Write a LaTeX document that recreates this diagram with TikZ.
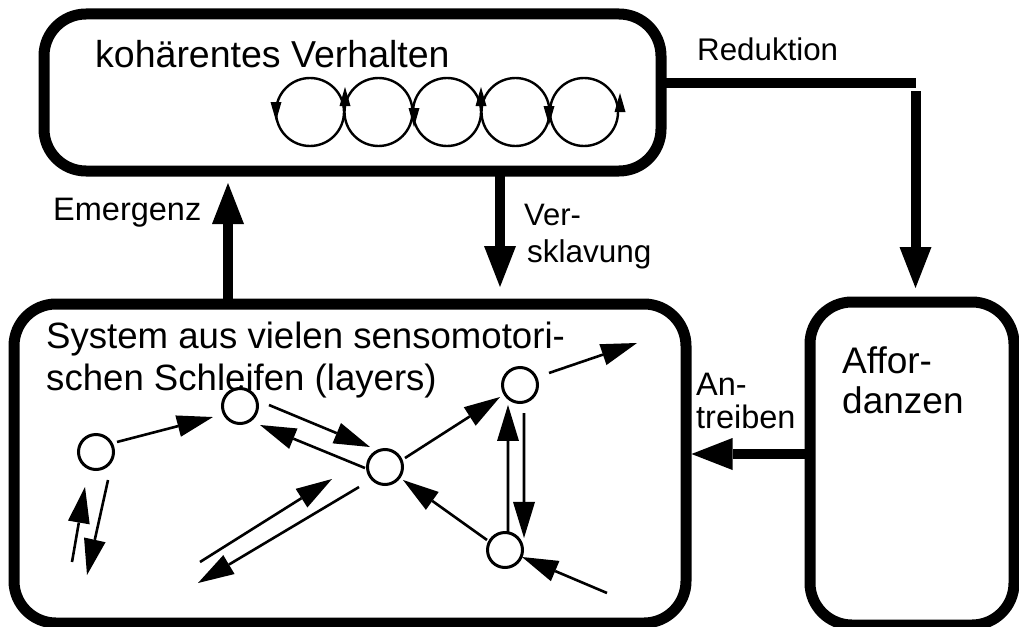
\documentclass[tikz,border=0pt]{standalone}
\usepackage{fontspec}
\setmainfont{Liberation Sans}
\usetikzlibrary{arrows.meta}
\begin{document}
\begin{tikzpicture}[x=1pt,y=-1pt,
  box/.style={draw, line width=11pt, rounded corners=42pt, inner sep=0pt, outer sep=0pt},
  bigline/.style={line width=10pt},
  bigarr/.style={line width=10pt, -{Triangle[length=41pt,width=32pt,line width=0pt]}},
  sarr/.style={line width=2.6pt, -{Triangle[length=36pt,width=22pt,line width=0pt]}},
  carr/.style={line width=2pt, -{Triangle[length=19pt,width=11pt,line width=0pt]}},
  loopc/.style={circle, draw, line width=2.4pt, minimum size=68pt, inner sep=0pt},
  unit/.style={circle, draw, line width=3pt, minimum size=35pt, inner sep=0pt},
  lbl/.style={anchor=base west, inner sep=0pt},
]
\useasboundingbox (0,0) rectangle (1019,626);

% boxes
\node[box, minimum width=617pt, minimum height=157pt] (beh) at (352.5,92.5) {};
\node[box, minimum width=672pt, minimum height=319pt] (sys) at (350,463.5) {};
\node[box, minimum width=204pt, minimum height=323pt] (aff) at (912,463.5) {};

% texts
\node[lbl, font=\fontsize{37.5}{40}\selectfont] (tbeh) at (95,67) {kohärentes Verhalten};
\node[lbl, font=\fontsize{36.6}{40}\selectfont] (tsys1) at (46,348) {System aus vielen sensomotori-};
\node[lbl, font=\fontsize{36.6}{40}\selectfont] (tsys2) at (46,390) {schen Schleifen (layers)};
\node[lbl, font=\fontsize{37}{40}\selectfont] (taff1) at (842,373) {Affor-};
\node[lbl, font=\fontsize{37}{40}\selectfont] (taff2) at (842,413) {danzen};
\node[lbl, font=\fontsize{32.5}{36}\selectfont] (tem) at (53,220) {Emergenz};
\node[lbl, font=\fontsize{31}{36}\selectfont] (tver1) at (524,225) {Ver-};
\node[lbl, font=\fontsize{31.5}{36}\selectfont] (tver2) at (527,262) {sklavung};
\node[lbl, font=\fontsize{31.3}{36}\selectfont] (tred) at (697,60) {Reduktion};
\node[lbl, font=\fontsize{32.5}{36}\selectfont] (tan1) at (696,395) {An-};
\node[lbl, font=\fontsize{32.5}{36}\selectfont] (tan2) at (696,428) {treiben};

% main connectors
\draw[bigarr, shorten >=12pt] ([xshift=-122pt]sys.north) -- ([xshift=-124.5pt]beh.south);
\draw[bigarr, shorten >=17pt] ([xshift=147.5pt]beh.south) -- ([xshift=150pt]sys.north);
\coordinate (r1) at (916,83);
\coordinate (r2) at (915.5,91);
\draw[bigline] ([yshift=9.5pt]beh.east) -- (r1);
\draw[bigarr, shorten >=14pt] (r2) -- ([xshift=3.5pt]aff.north);
\draw[bigarr] ([yshift=9.5pt]aff.west) -- ([xshift=5.5pt,yshift=9.5pt]sys.east);

% coherent behaviour loops
\foreach \i/\x in {1/310,2/378.5,3/447,4/515.5,5/584}
  \node[loopc] (c\i) at (\x,112) {};
\draw[carr] ([shift={(-34,-10)}]c1.center) -- ([shift={(-34,9)}]c1.center);
\draw[carr] ([shift={(-33.5,-6)}]c2.center) -- ([shift={(-33.5,-25)}]c2.center);
\draw[carr] ([shift={(-33,-4)}]c3.center) -- ([shift={(-33,15)}]c3.center);
\draw[carr] ([shift={(-34.5,-6)}]c4.center) -- ([shift={(-34.5,-25)}]c4.center);
\draw[carr] ([shift={(-35,-6)}]c5.center) -- ([shift={(-35,13)}]c5.center);
\draw[carr] ([shift={(36,0)}]c5.center) -- ([shift={(36,-19)}]c5.center);

% sensorimotor units
\node[unit] (A) at (96,452) {};
\node[unit] (B) at (240,406) {};
\node[unit] (C) at (385,467) {};
\node[unit] (D) at (520,385) {};
\node[unit] (E) at (505,550) {};

\coordinate (f1) at (200,562);
\coordinate (f1e) at (332,479);
\coordinate (f2) at (198,583);
\coordinate (f3) at (637,343);
\coordinate (f4) at (607,593);
\coordinate (f5) at (72,562);
\coordinate (f6) at (85,487);
\coordinate (f7) at (87,575);

\draw[sarr] ([shift={(-25.5:23.3)}]A.center) -- ([shift={(157.8:29.2)}]B.center);
\draw[sarr] ([shift={(-2:29)}]B.center) -- ([shift={(233.1:25)}]C.center);
\draw[sarr] ([shift={(177:20)}]C.center) -- ([shift={(43.5:27.6)}]B.center);
\draw[sarr] (f1) -- (f1e);
\draw[sarr] ([shift={(142.4:32.8)}]C.center) -- (f2);
\draw[sarr] ([shift={(-24.2:21.9)}]C.center) -- ([shift={(149:23.3)}]D.center);
\draw[sarr] ([shift={(-22.5:31.4)}]D.center) -- (f3);
\draw[sarr] ([shift={(209.1:20.6)}]E.center) -- ([shift={(35.8:22.2)}]C.center);
\draw[sarr] ([shift={(-80.5:18.2)}]E.center) -- ([shift={(121:23.3)}]D.center);
\draw[sarr] ([shift={(81.9:28.3)}]D.center) -- ([shift={(-32.3:22.5)}]E.center);
\draw[sarr] (f4) -- ([shift={(22.4:18.4)}]E.center);
\draw[sarr] (f5) -- (f6);
\draw[sarr] ([shift={(66.8:30.5)}]A.center) -- (f7);
\end{tikzpicture}
\end{document}
